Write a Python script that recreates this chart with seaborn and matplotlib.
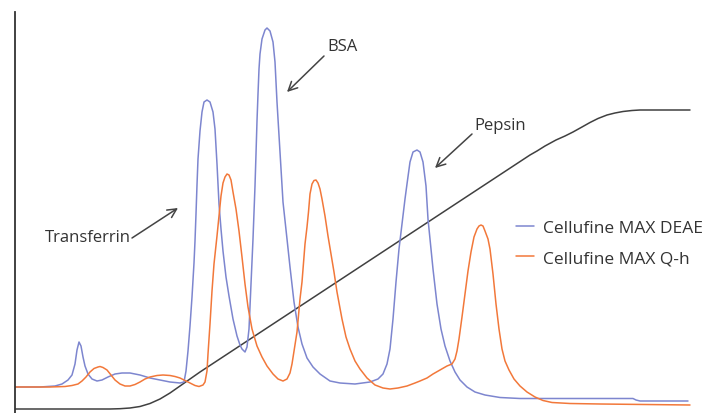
import matplotlib
matplotlib.use("Agg")
import matplotlib.pyplot as plt
import seaborn as sns
import pandas as pd

# ---- data (x = elution position, y = pixel row of the trace) ----
deae_x = [15, 40, 55, 62, 68, 72, 75, 77, 79, 81, 83, 85, 88, 92, 97, 102, 108, 115, 122, 130,
          140, 150, 160, 170, 180, 184, 186, 188, 190, 192, 194, 195, 196, 197, 198, 200, 202,
          204, 207, 210, 213, 215, 217, 219, 221, 223, 226, 229, 233, 237, 240, 242, 245, 247,
          249, 251, 253, 255, 256, 257, 258, 259, 260, 262, 265, 267, 270, 273, 275, 277, 280,
          283, 287, 290, 294, 298, 302, 307, 313, 320, 330, 340, 355, 370, 378, 383, 387, 390,
          393, 396, 399, 402, 405, 407, 410, 413, 417, 420, 423, 426, 428, 430, 433, 437, 441,
          445, 450, 455, 460, 467, 475, 485, 500, 520, 633, 636, 640, 688]
deae_y = [388, 388, 387, 385, 381, 376, 365, 351, 343, 347, 358, 367, 375, 380, 382, 381, 378, 375, 374, 374,
          376, 379, 381, 383, 384, 383, 372, 352, 327, 298, 264, 242, 215, 186, 160, 132, 113,
          103, 101, 103, 113, 130, 165, 205, 230, 252, 278, 297, 320, 337, 346, 350, 353, 348,
          330, 285, 240, 187, 155, 122, 95, 70, 55, 40, 31, 29, 32, 43, 63, 103, 153,
          203, 240, 268, 303, 328, 345, 359, 368, 375, 382, 384, 385, 383, 380, 375, 365, 350,
          320, 283, 250, 225, 200, 185, 163, 153, 151, 153, 163, 187, 220, 240, 270, 305, 330,
          347, 362, 373, 381, 388, 393, 396, 398.5, 399.5, 399.5, 401, 402, 402]

qh_x = [15, 50, 65, 72, 78, 82, 86, 90, 94, 98, 100, 103, 107, 111, 115, 120, 125, 130, 135, 140,
        145, 150, 157, 163, 170, 175, 180, 185, 190, 195, 199, 203, 205, 207, 208, 210, 212, 214,
        217, 219, 221, 223, 225, 227, 229, 231, 233, 236, 239, 242, 245, 248, 252, 257, 262,
        267, 273, 278, 283, 287, 290, 292, 294, 297, 300, 302, 305, 307, 308.5, 310, 312, 314,
        316, 318, 320, 322, 325, 328, 331, 334, 337, 342, 346, 350, 355, 360, 367, 375, 383,
        390, 398, 407, 415, 420, 427, 433, 440, 447, 452, 455, 457, 459, 462, 465, 468, 471,
        474, 477, 479, 481, 483, 485, 488, 490, 493, 496, 499, 502, 505, 509, 514, 520, 527,
        535, 543, 552, 570, 600, 690]
qh_y = [388, 388, 387.5, 386.5, 385, 382, 378, 373, 369.5, 368, 367.5, 368.5, 371, 376, 381, 385, 387, 387, 385.5, 383,
        380, 378, 376.5, 376, 376.5, 377.5, 379, 381.5, 384, 386.5, 387.5, 386, 383, 372, 355, 325, 292, 265,
        237, 217, 197, 184, 178, 175, 176, 181, 193, 210, 232, 258, 285, 308, 330, 347, 358,
        367, 375, 380, 382, 380, 374, 365, 352, 333, 300, 283, 245, 228, 213, 195, 185, 181.5,
        181, 184, 190, 200, 217, 237, 255, 273, 293, 320, 338, 350, 362, 370, 379, 386, 389,
        390, 389, 387, 384, 382, 379, 375, 371, 367, 365, 360, 352, 340, 318, 295, 272, 253,
        238, 230, 227, 226, 227, 232, 240, 250, 275, 305, 330, 350, 362, 371, 380, 387, 393,
        398, 401.5, 403.5, 404.5, 405, 406]

grad_x = [15, 110, 120, 130, 140, 150, 160, 170, 180, 190, 200, 530, 537, 545, 556, 565, 573,
          582, 590, 598, 607, 615, 623, 632, 640, 690]
grad_y = [410, 410, 409.7, 409, 407.5, 404.5, 400, 394, 387, 380, 373, 156, 152, 147, 141, 137, 133,
          128, 123.5, 119.5, 116, 114, 112.5, 111.5, 111, 111]

series_names = ["Cellufine MAX DEAE", "Cellufine MAX Q-h"]
labels = ["Transferrin", "BSA", "Pepsin"]

H = 414  # image height: heights are measured upward from the bottom
df = pd.concat([
    pd.DataFrame({"x": deae_x, "y": [H - v for v in deae_y], "s": series_names[0]}),
    pd.DataFrame({"x": qh_x, "y": [H - v for v in qh_y], "s": series_names[1]}),
], ignore_index=True)
grad = pd.DataFrame({"x": grad_x, "y": [H - v for v in grad_y]})

sns.set_style("white")
plt.rcParams["font.family"] = ["Open Sans", "DejaVu Sans"]

fig = plt.figure(figsize=(7.05, 4.14), dpi=100)
ax = fig.add_axes([15 / 705, 0, 690 / 705, 401 / 414])

blue = "#7d86cf"
orange = "#f2783a"
sns.lineplot(data=grad, x="x", y="y", color="#404040", lw=1.1, ax=ax, legend=False,
             sort=False, estimator=None)
sns.lineplot(data=df, x="x", y="y", hue="s", palette=[blue, orange], lw=1.1, ax=ax,
             sort=False, estimator=None)
for ln in ax.get_lines():
    ln.set_solid_joinstyle("round")

ax.set_xlim(15, 705)
ax.set_ylim(0, 401)
ax.set_xticks([])
ax.set_yticks([])
ax.set_xlabel("")
ax.set_ylabel("")
for s in ["top", "right", "bottom"]:
    ax.spines[s].set_visible(False)
ax.spines["left"].set_color("#333333")
ax.spines["left"].set_linewidth(1.3)

sns.move_legend(ax, "center left", bbox_to_anchor=(500 / 705, 1 - 244 / 414),
                bbox_transform=fig.transFigure, frameon=False, title=None,
                fontsize=12.5, handlelength=1.03, handletextpad=0.57, labelspacing=0.84)
for t in ax.get_legend().get_texts():
    t.set_color("#333333")

tc = "#333333"
ac = "#444444"
arrow = dict(arrowstyle="->", color=ac, lw=1.1, shrinkA=0, shrinkB=0, mutation_scale=16)
ax.text(45, H - 238, labels[0], fontsize=12, color=tc, ha="left", va="center")
ax.annotate("", xy=(178, H - 209), xytext=(132, H - 239), arrowprops=arrow)
ax.text(327, H - 47, labels[1], fontsize=12, color=tc, ha="left", va="center")
ax.annotate("", xy=(287, H - 93), xytext=(324, H - 57), arrowprops=arrow)
ax.text(474, H - 126, labels[2], fontsize=12, color=tc, ha="left", va="center")
ax.annotate("", xy=(435, H - 169), xytext=(472, H - 135), arrowprops=arrow)

fig.savefig("out.png", dpi=100)
